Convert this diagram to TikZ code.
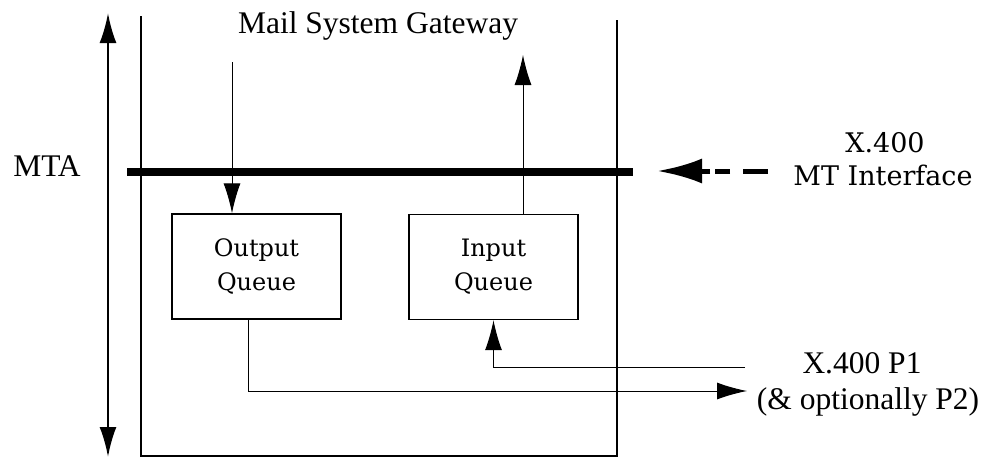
\documentclass[tikz,border=0pt]{standalone}
\usepackage{fontspec}
\setmainfont{Liberation Serif}
\newfontfamily\boxfont{DejaVu Serif}
\usetikzlibrary{arrows.meta}

\begin{document}
\begin{tikzpicture}[x=1pt,y=1pt,yscale=-1,
  queue/.style={draw,line width=1.4pt,minimum width=169pt,minimum height=105pt,inner sep=0pt,align=center,font=\boxfont\fontsize{24}{34}\selectfont},
  flow/.style={line width=1pt,-{Latex[length=30pt,width=17pt]}},
  txt/.style={inner sep=0pt,anchor=base,font=\fontsize{31.5}{38}\selectfont},
  ifacetxt/.style={txt,font=\boxfont\fontsize{27}{33}\selectfont}]
\useasboundingbox (0,0) rectangle (999,458);

%MTA extent
\draw [line width=2.5pt,{Latex[length=30pt,width=17pt]}-{Latex[length=30pt,width=17pt]}] (108,13) -- (108,457) ;
%Gateway outline
\draw [line width=1.3pt] (141,16) -- (141,456) -- (617,456) -- (617,20) ;
%MT interface bar
\draw [line width=8pt] (127,172) -- (633,172) ;

%Queues
\node [queue] (outq) at (256.5,266.5) {Output\\Queue};
\node [queue] (inq) at (493.5,267) {Input\\Queue};

%Connector ends
\coordinate (feed) at (232,62);
\coordinate (deliver) at (523,55);
\coordinate (p1) at (745,367);
\coordinate (p2) at (747,391);
\coordinate (mtsrc) at (768,171);
\coordinate (mtdst) at (657,171);

%Flows
\draw [flow] (feed) -- (feed |- outq.north) ;
\draw [flow] (deliver |- inq.north) -- (deliver) ;
\draw [flow] (p1) -| (inq.south) ;
\draw [flow] ([xshift=-8.5pt]outq.south) |- (p2) ;
\draw [line width=5pt,dash pattern={on 25pt off 13pt on 15pt off 5pt},-{Latex[length=45pt,width=25pt]}] (mtsrc) -- (mtdst) ;

% Text Node
\node [txt] (gw) at (378,33) {Mail System Gateway};
% Text Node
\node [txt] (mta) at (47,176) {MTA};
% Text Node
\node [ifacetxt] (x400) at (885,152) {X.400};
% Text Node
\node [ifacetxt] (mti) at (883,185) {MT Interface};
% Text Node
\node [txt] (p1txt) at (862,373) {X.400 P1};
% Text Node
\node [txt] (p2txt) at (868,409) {(\& optionally P2)};

\end{tikzpicture}
\end{document}
